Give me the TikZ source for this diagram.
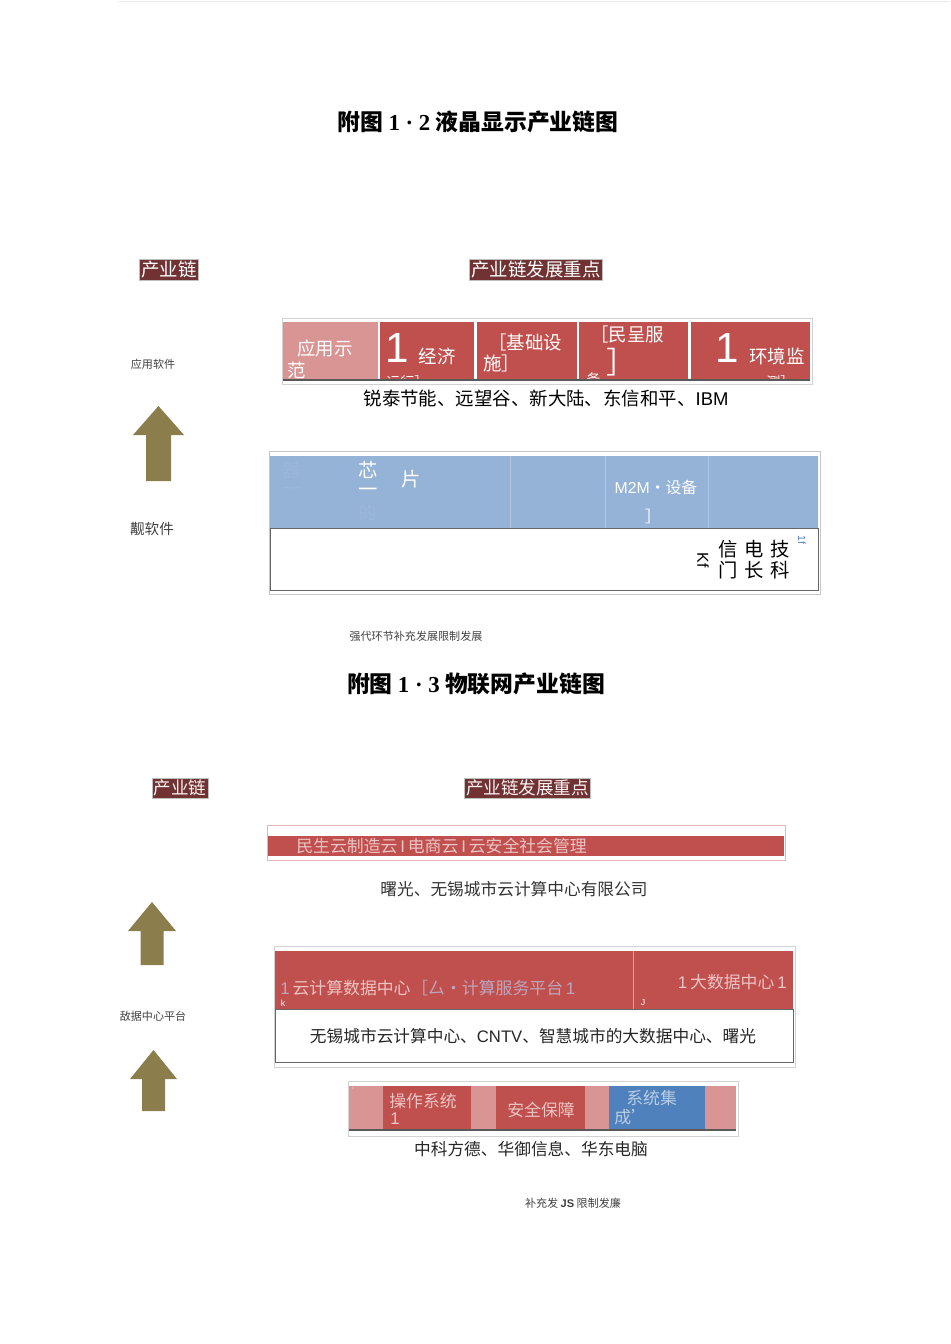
\documentclass[tikz,border=0pt]{standalone}
\usepackage{fontspec}
\setmainfont{Liberation Serif}
\newfontfamily\cjk{Noto Sans CJK SC}
\newfontfamily\latsans{Liberation Sans}
\usetikzlibrary{positioning}
\definecolor{labred}{RGB}{112,50,50}
\definecolor{cellred}{RGB}{192,80,77}
\definecolor{cellpink}{RGB}{217,149,148}
\definecolor{bandblue}{RGB}{149,179,215}
\definecolor{cellblue}{RGB}{79,129,189}
\definecolor{arrowolive}{RGB}{139,125,76}
\definecolor{lavtext}{RGB}{190,165,190}
\definecolor{softpink}{RGB}{238,196,196}
\tikzset{
  figtitle/.style={font=\cjk\bfseries\fontsize{13}{15}\selectfont},
  lab/.style={fill=labred,draw=gray!50,text=white,inner sep=1pt,font=\cjk\fontsize{10.5}{12}\selectfont},
  celltext/.style={text=white,inner sep=0pt,font=\cjk\fontsize{10.5}{12}\selectfont},
  bigone/.style={text=white,inner sep=0pt,font=\latsans\fontsize{24}{26}\selectfont},
  bodytext/.style={inner sep=0pt,font=\cjk\fontsize{10.5}{12}\selectfont},
  smalltext/.style={inner sep=0pt,text=black!75,font=\cjk\fontsize{6.3}{7}\selectfont},
  lowtext/.style={inner sep=0pt,text=softpink,font=\cjk\fontsize{9.6}{11}\selectfont}
}
% olive arrow: centre x, top y, bottom y, half head width, half shaft width
\newcommand\chainarrow[5]{%
  \fill[arrowolive] (#1-#5,#3) -- (#1-#5,#2+29) -- (#1-#4,#2+29) -- (#1,#2)
    -- (#1+#4,#2+29) -- (#1+#5,#2+29) -- (#1+#5,#3) -- cycle;}
\begin{document}
\begin{tikzpicture}[x=0.02cm,y=-0.02cm]
  \useasboundingbox (0,0) rectangle (950,1344);
  \draw[gray!15] (118,1) -- (950,1);

  %%% Figure 1.2
  \node[figtitle] (title12) at (478,122) {附图 {\rmfamily\bfseries 1 · 2} 液晶显示产业链图};
  \node[lab] (chain12) at (169,270) {产业链};
  \node[lab] (focus12) at (536,270) {产业链发展重点};

  % left column
  \node[smalltext] (appsw) at (153,364) {应用软件};
  \chainarrow{158.5}{406}{481}{25.5}{12.5}
  \node[smalltext,font=\cjk\fontsize{8.3}{9}\selectfont] (basesw) at (152,529) {觏软件};

  % red band
  \draw[gray!35] (282,318) rectangle (812,384);
  \begin{scope}
    \clip (283,322) rectangle (810,380);
    \fill[cellpink] (283,322) rectangle (378,380);
    \fill[cellred] (380,322) rectangle (474,380);
    \fill[cellred] (477,322) rectangle (577,380);
    \fill[cellred] (579,322) rectangle (688,380);
    \fill[cellred] (691,322) rectangle (810,380);
    \node[celltext] (demo) at (325,348) {应用示};
    \node[celltext,anchor=west] (demob) at (287,370) {范};
    \node[bigone] (one1) at (397,348) {1};
    \node[celltext] (econ) at (437,356) {经济};
    \node[celltext,anchor=west,font=\cjk\fontsize{8}{9}\selectfont] (econb) at (386,382) {运行］};
    \node[celltext,anchor=west] (infra) at (488,342) {［基础设};
    \node[celltext,anchor=west] (infrab) at (483,363) {施］};
    \node[celltext,anchor=west] (civil) at (590,334) {［民呈服};
    \node[celltext,font=\cjk\fontsize{17}{18}\selectfont] (civilb) at (621,362) {］};
    \node[celltext,anchor=west,font=\cjk\fontsize{8}{9}\selectfont] (civilc) at (586,379) {务};
    \node[bigone] (one2) at (727,348) {1};
    \node[celltext,anchor=west] (env) at (749,356) {环境监};
    \node[celltext,anchor=west,font=\cjk\fontsize{8}{9}\selectfont] (envb) at (766,382) {测］};
  \end{scope}
  \draw[gray!70!black,line width=0.8pt] (283,380) -- (810,380);
  \node[bodytext] (firms12a) at (546,398) {锐泰节能、远望谷、新大陆、东信和平、{\latsans IBM}};

  % blue band
  \draw[gray!45] (269,451) rectangle (820,594);
  \fill[bandblue] (270,456) rectangle (818,528);
  \foreach \xv in {510,605,708}
    \draw[bandblue!75!white] (\xv,456) -- (\xv,528);
  \node[celltext,text=bandblue!94!white] (ghost1) at (292,471) {器};
  \node[celltext,text=bandblue!94!white] (ghost2) at (292,492) {一};
  \node[celltext,text=bandblue!94!white] (ghost3) at (368,512) {的};
  \node[celltext,font=\cjk\fontsize{11}{12}\selectfont] (chipa) at (368,470) {芯};
  \node[celltext,font=\cjk\fontsize{11}{12}\selectfont] (chipb) at (368,492) {一};
  \node[celltext,font=\cjk\fontsize{11}{12}\selectfont] (chipc) at (411,479) {片};
  \node[celltext,font=\cjk\fontsize{9}{10}\selectfont] (m2m) at (656,487) {{\latsans M2M}•设备};
  \node[celltext,font=\cjk\fontsize{9}{10}\selectfont] (m2mb) at (653,516) {］};
  \draw[gray!80!black] (270,528) rectangle (818,590);
  \node[bodytext,font=\cjk\fontsize{11}{12}\selectfont] (telea) at (754,549) {信\,\,电\,\,技};
  \node[bodytext,font=\cjk\fontsize{11}{12}\selectfont] (teleb) at (754,570) {门\,\,长\,\,科};
  \node[bodytext,rotate=-90,font=\latsans\fontsize{9}{10}\selectfont] (kf) at (703,560) {Kf};
  \node[bodytext,rotate=-90,text=cellblue,font=\latsans\fontsize{6}{7}\selectfont] (onef) at (802,540) {1f};

  \node[smalltext] (note12) at (416,636) {强代环节补充发展限制发展};

  %%% Figure 1.3
  \node[figtitle] (title13) at (476,684) {附图 {\rmfamily\bfseries 1 · 3} 物联网产业链图};
  \node[lab,font=\cjk\fontsize{10}{11}\selectfont,text=pink!20!white] (chain13) at (180,788) {产业链};
  \node[lab,font=\cjk\fontsize{10}{11}\selectfont,text=pink!20!white] (focus13) at (527.5,788) {产业链发展重点};

  % left column
  \chainarrow{152}{902}{965}{24}{11.5}
  \node[smalltext] (dcplat) at (153,1016) {敌据中心平台};
  \chainarrow{153.5}{1050}{1111}{23.5}{11.5}

  % cloud band
  \draw[cellpink!70] (267,825) rectangle (785,860);
  \fill[cellred] (268,836) rectangle (784,856);
  \node[lowtext,anchor=west] (clouds) at (296,846) {民生云制造云{\latsans\,I\,}电商云{\latsans\,I\,}云安全社会管理};
  \node[bodytext,text=black!80,font=\cjk\fontsize{9.5}{11}\selectfont] (firms13a) at (514,889) {曙光、无锡城市云计算中心有限公司};

  % data centre box
  \draw[gray!35] (274,946) rectangle (795,1067);
  \fill[cellred] (275,951) rectangle (793,1009);
  \draw[cellred!55!white] (633,951) -- (633,1009);
  \node[lowtext,anchor=west] (dc1) at (280,988) {{\latsans\color{lavtext}1\,}云计算数据中心};
  \node[lowtext,text=lavtext,right=0pt of dc1] (dc2) {［厶•计算服务平台{\latsans\,1}};
  \node[lowtext,anchor=east] (bigdata) at (787,982) {{\latsans 1\,}大数据中心{\latsans\,1}};
  \node[celltext,font=\latsans\fontsize{5}{6}\selectfont] (kk) at (283,1003) {k};
  \node[celltext,font=\latsans\fontsize{5}{6}\selectfont] (jj) at (643,1003) {J};
  \draw[gray!80!black] (275,1009) rectangle (793,1062);
  \node[bodytext,text=black!85,font=\cjk\fontsize{9.5}{11}\selectfont] (firms13b) at (533,1036) {无锡城市云计算中心、{\latsans CNTV}、智慧城市的大数据中心、曙光};

  % os band
  \draw[gray!35] (348,1081) rectangle (738,1136);
  \fill[cellpink] (349,1086) rectangle (736,1130);
  \fill[cellred] (383,1086) rectangle (471,1130);
  \fill[cellred] (496,1086) rectangle (585,1130);
  \fill[cellblue] (609,1086) rectangle (705,1130);
  \draw[gray!70!black,line width=0.8pt] (349,1130) -- (736,1130);
  \node[celltext,font=\latsans\fontsize{4}{5}\selectfont] (tick) at (353,1090) {'};
  \node[lowtext,anchor=west] (osa) at (389,1101) {操作系统};
  \node[lowtext,anchor=west] (osb) at (390,1119) {{\latsans 1}};
  \node[lowtext] (secur) at (541,1110) {安全保障};
  \node[lowtext,anchor=west,text=cellblue!40!white] (inta) at (626,1098) {系统集};
  \node[lowtext,anchor=west,text=cellblue!40!white] (intb) at (614,1117) {成’};
  \node[bodytext,text=black!85,font=\cjk\fontsize{9.5}{11}\selectfont] (firms13c) at (531,1149) {中科方德、华御信息、华东电脑};

  \node[smalltext] (note13) at (573,1203) {补充发 {\latsans\bfseries JS} 限制发廉};
\end{tikzpicture}
\end{document}
